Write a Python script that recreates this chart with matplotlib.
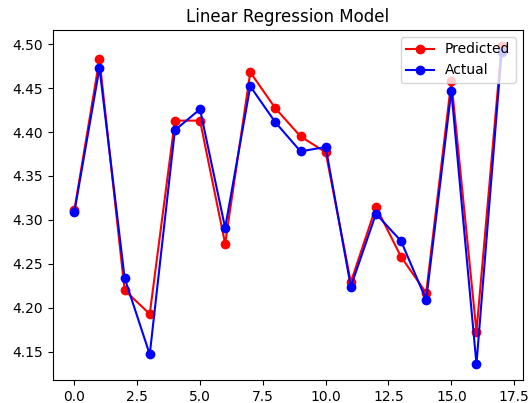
import numpy as np
import matplotlib
matplotlib.use('Agg')
import matplotlib.pyplot as plt

# values
idx = np.arange(18)
predicted = [4.311, 4.483, 4.220, 4.193, 4.413, 4.413, 4.273, 4.468, 4.427,
             4.395, 4.377, 4.229, 4.315, 4.258, 4.217, 4.458, 4.173, 4.498]
actual = [4.309, 4.473, 4.234, 4.147, 4.402, 4.426, 4.291, 4.452, 4.411,
          4.378, 4.383, 4.224, 4.307, 4.276, 4.209, 4.447, 4.136, 4.491]

fig, ax = plt.subplots(figsize=(5.32, 4.03), dpi=100)
fig.subplots_adjust(left=0.0996, right=0.983, top=0.9256, bottom=0.057)

ax.plot(idx, predicted, marker='o', color='red', label='Predicted')
ax.plot(idx, actual, marker='o', color='blue', label='Actual')

ax.set_title("Linear Regression Model")
ax.legend(loc='upper right')
fig.savefig('out.png', dpi=100)
